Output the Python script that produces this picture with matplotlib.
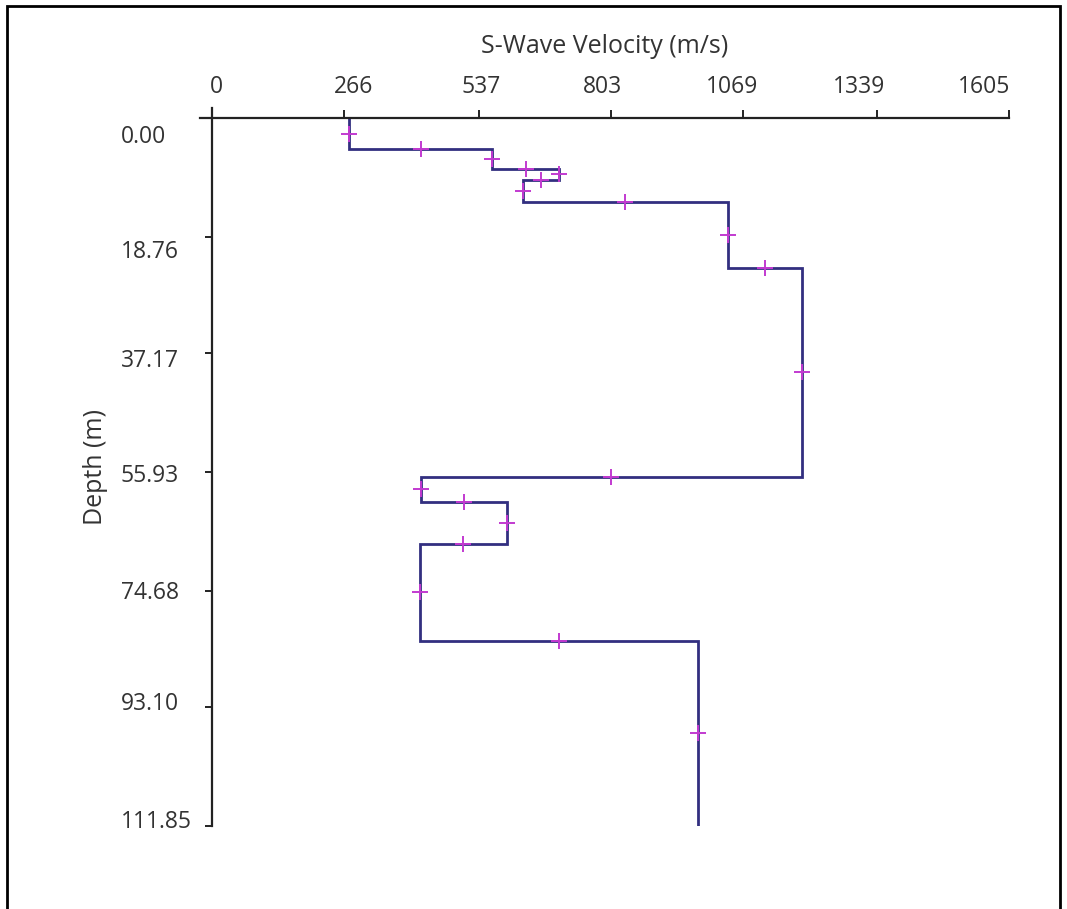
import matplotlib
matplotlib.use("Agg")
import matplotlib.pyplot as plt
import matplotlib.transforms as mtransforms
from matplotlib.patches import Rectangle
import numpy as np

# layer profile
layer_tops = [0.0, 4.90, 8.06, 9.79, 13.27, 23.70, 56.71, 60.66, 67.30, 82.62]
velocities = [276, 564, 699, 626, 1039, 1188, 421, 594, 419, 979]
max_depth = 111.85

x_ticks = [0, 266, 537, 803, 1069, 1339, 1605]
x_ticklabels = ["0", "266", "537", "803", "1069", "1339", "1605"]
y_ticks = [0.0, 18.76, 37.17, 55.93, 74.68, 93.10, 111.85]
y_ticklabels = ["0.00", "18.76", "37.17", "55.93", "74.68", "93.10", "111.85"]

LINE_COLOUR = "#322f80"
MARK_COLOUR = "#c23ad0"
TEXT_COLOUR = "#333333"
W, H, DPI = 1067, 909, 100


def main():
    plt.rcParams["font.family"] = ["Open Sans", "DejaVu Sans"]

    fig = plt.figure(figsize=(W / DPI, H / DPI), dpi=DPI)
    # axes box in pixels: x 200..1009, y 108.5..826
    ax = fig.add_axes([200 / W, 1 - 826 / H, 809 / W, 717.5 / H])

    v = np.array(velocities, dtype=float)
    tops = np.array(layer_tops)
    bots = np.append(tops[1:], max_depth)

    # step path: down each layer, then across to the next one
    xs = np.repeat(v, 2)
    ys = np.column_stack([tops, bots]).ravel()
    ax.plot(xs, ys, color=LINE_COLOUR, lw=2.0, solid_joinstyle="miter", zorder=2)

    # midpoints of every segment get a marker
    mx = np.concatenate([v, (v[:-1] + v[1:]) / 2])
    my = np.concatenate([(tops + bots) / 2, bots[:-1]])
    ax.plot(mx, my, ls="none", marker="+", ms=11, mew=1.4, color=MARK_COLOUR, zorder=3)

    ax.set_xlim(-24, 1605)
    ax.set_ylim(max_depth, -1.5)

    for side in ("bottom", "right"):
        ax.spines[side].set_visible(False)
    ax.spines["top"].set_position(("data", 0))
    ax.spines["left"].set_position(("data", 0))
    for side in ("top", "left"):
        ax.spines[side].set_linewidth(1.6)
        ax.spines[side].set_color("#222222")

    ax.xaxis.tick_top()
    ax.xaxis.set_label_position("top")
    ax.set_xticks(x_ticks, x_ticklabels)
    ax.set_yticks(y_ticks, y_ticklabels)
    ax.tick_params(axis="x", direction="out", length=6, width=1.4, color="#222222",
                   labelsize=16.5, labelcolor=TEXT_COLOUR, pad=8)
    ax.tick_params(axis="y", direction="out", length=5, width=1.4, color="#222222",
                   labelsize=16.5, labelcolor=TEXT_COLOUR, pad=60.5)

    # labels in the picture sit a little off their ticks
    x_shift = [5, 10, 3, -8, -11, -18, -25]
    y_shift = [16, 12, 5, 1, -1, -6, -7]
    for tick, dx in zip(ax.xaxis.get_major_ticks(), x_shift):
        lab = tick.label2
        lab.set_transform(lab.get_transform() + mtransforms.ScaledTranslation(dx / DPI, 0, fig.dpi_scale_trans))
    for tick, dy in zip(ax.yaxis.get_major_ticks(), y_shift):
        lab = tick.label1
        lab.set_horizontalalignment("left")
        lab.set_transform(lab.get_transform() + mtransforms.ScaledTranslation(0, -dy / DPI, fig.dpi_scale_trans))

    ax.set_xlabel("S-Wave Velocity (m/s)", fontsize=18, color=TEXT_COLOUR)
    ax.xaxis.set_label_coords(0.5, (826 - 53) / 717.5)
    ax.set_ylabel("Depth (m)", fontsize=18, color=TEXT_COLOUR)
    ax.yaxis.set_label_coords((108 - 200) / 809, 0.5)

    # frame round the whole picture
    fig.add_artist(Rectangle((7 / W, -0.05), (1060 - 7) / W, 1 - 6 / H + 0.05,
                             transform=fig.transFigure, fill=False, lw=2.0,
                             edgecolor="black", clip_on=False))

    fig.savefig("out.png", dpi=DPI)


if __name__ == "__main__":
    main()
